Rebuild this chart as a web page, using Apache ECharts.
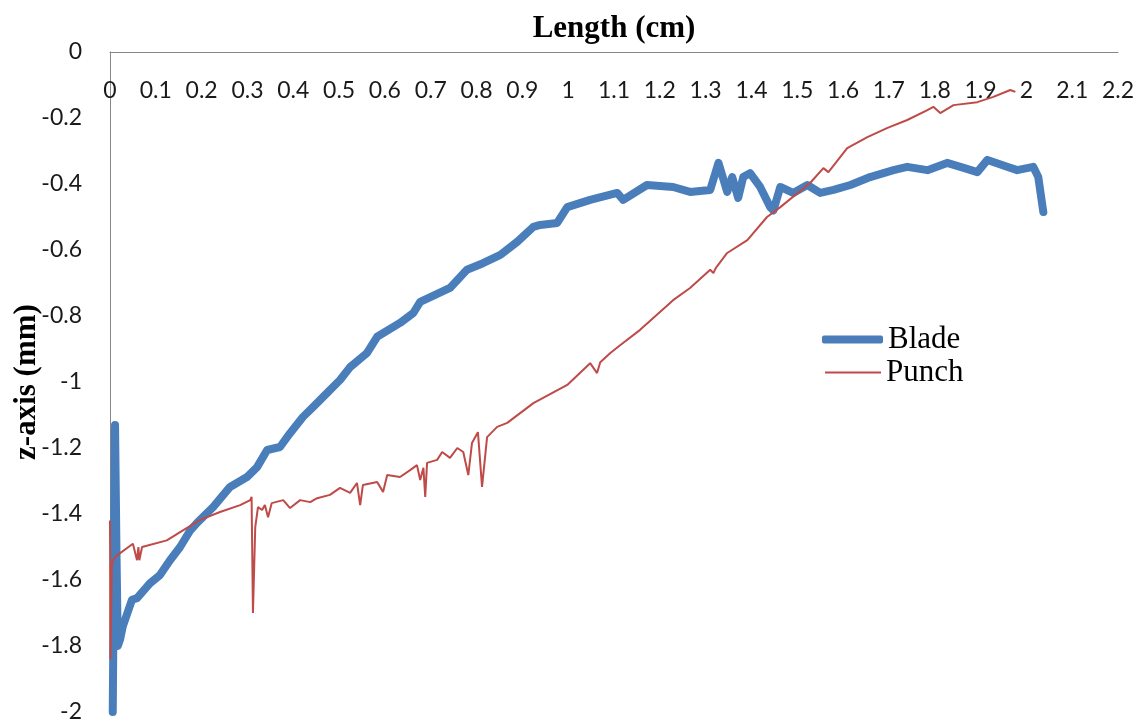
<!DOCTYPE html>
<html>
<head>
<meta charset="utf-8">
<script src="https://cdn.jsdelivr.net/npm/echarts@6/dist/echarts.min.js"></script>
<style>
  html, body { margin: 0; padding: 0; background: #fff; }
  #chart { width: 1143px; height: 725px; }
</style>
</head>
<body>
<div id="chart"></div>
<script>
// 读图得到的数据 (x: cm, y: mm)
var bladeX = [0.006, 0.011, 0.014, 0.017, 0.022, 0.028, 0.048, 0.059, 0.087, 0.109, 0.131, 0.153, 0.175, 0.19, 0.225,
  0.262, 0.299, 0.321, 0.343, 0.371, 0.393, 0.421, 0.443, 0.474, 0.502, 0.524, 0.561, 0.583, 0.633, 0.662, 0.677,
  0.742, 0.779, 0.814, 0.852, 0.889, 0.924, 0.939, 0.976, 0.998, 1.048, 1.107, 1.12, 1.172, 1.229, 1.266, 1.31,
  1.328, 1.347, 1.358, 1.371, 1.382, 1.397, 1.419, 1.441, 1.448, 1.463, 1.491, 1.522, 1.55, 1.579, 1.616, 1.659,
  1.71, 1.74, 1.784, 1.827, 1.856, 1.893, 1.915, 1.958, 1.98, 2.015, 2.026, 2.037];
var bladeY = [-2.0, -1.13, -1.5, -1.80, -1.78, -1.74, -1.66, -1.655, -1.61, -1.585, -1.54, -1.50, -1.45, -1.427, -1.379,
  -1.318, -1.288, -1.258, -1.206, -1.197, -1.155, -1.106, -1.076, -1.033, -0.994, -0.955, -0.912, -0.863, -0.821, -0.791, -0.757,
  -0.715, -0.66, -0.64, -0.615, -0.575, -0.53, -0.524, -0.518, -0.47, -0.448, -0.427, -0.448, -0.403, -0.409, -0.424, -0.418,
  -0.336, -0.424, -0.379, -0.442, -0.379, -0.367, -0.409, -0.47, -0.48, -0.409, -0.427, -0.403, -0.427, -0.418, -0.403, -0.379,
  -0.358, -0.348, -0.358, -0.336, -0.348, -0.364, -0.327, -0.348, -0.358, -0.348, -0.379, -0.485];

var punchX = [0, 0.001, 0.004, 0.011, 0.05, 0.059, 0.062, 0.064, 0.07, 0.124, 0.153, 0.197, 0.24, 0.284, 0.306, 0.309,
  0.312, 0.317, 0.323, 0.332, 0.338, 0.345, 0.353, 0.378, 0.393, 0.415, 0.437, 0.452, 0.48, 0.502, 0.524, 0.539, 0.546,
  0.552, 0.583, 0.596, 0.605, 0.633, 0.655, 0.67, 0.677, 0.684, 0.688, 0.692, 0.714, 0.725, 0.742, 0.758, 0.771, 0.782,
  0.79, 0.803, 0.812, 0.823, 0.845, 0.867, 0.924, 0.998, 1.048, 1.063, 1.07, 1.092, 1.114, 1.157, 1.229, 1.266, 1.31,
  1.317, 1.322, 1.347, 1.391, 1.434, 1.463, 1.528, 1.557, 1.568, 1.609, 1.653, 1.697, 1.74, 1.784, 1.797, 1.812, 1.841,
  1.893, 1.928, 1.965, 1.976];
var punchY = [-1.42, -1.84, -1.55, -1.53, -1.49, -1.54, -1.50, -1.54, -1.50, -1.48, -1.455, -1.418, -1.394, -1.373, -1.358, -1.348,
  -1.70, -1.44, -1.379, -1.388, -1.373, -1.41, -1.367, -1.358, -1.382, -1.358, -1.364, -1.352, -1.342, -1.321, -1.336, -1.306, -1.373,
  -1.312, -1.303, -1.333, -1.282, -1.288, -1.267, -1.252, -1.297, -1.26, -1.348, -1.245, -1.236, -1.212, -1.23, -1.2, -1.212, -1.282,
  -1.185, -1.152, -1.318, -1.167, -1.136, -1.124, -1.064, -1.009, -0.943, -0.973, -0.94, -0.912, -0.888, -0.842, -0.752, -0.715, -0.66,
  -0.67, -0.655, -0.609, -0.57, -0.5, -0.47, -0.397, -0.352, -0.364, -0.291, -0.258, -0.23, -0.206, -0.176, -0.166, -0.185, -0.161,
  -0.152, -0.136, -0.115, -0.121];

function pairs(xs, ys) {
  var out = [];
  for (var i = 0; i < xs.length; i++) out.push([xs[i], ys[i]]);
  return out;
}

var myChart = echarts.init(document.getElementById('chart'));

var legendText = { fontFamily: 'Liberation Serif', fontSize: 31, color: '#000' };

var option = {
  animation: false,
  grid: { left: 110, top: 52, right: 25, bottom: 13, containLabel: false, outerBoundsMode: 'none' },
  legend: [
    {   // 两个图例分开, 线宽不同
      orient: 'vertical',
      left: 817,
      top: 319,
      icon: 'roundRect',
      itemWidth: 61,
      itemHeight: 8,
      textStyle: legendText,
      data: ['Blade']
    },
    {
      orient: 'vertical',
      left: 820,
      top: 352,
      icon: 'rect',
      itemWidth: 56,
      itemHeight: 2,
      textStyle: legendText,
      data: ['Punch']
    }
  ],
  xAxis: {
    type: 'value',
    position: 'top',
    min: 0,
    max: 2.2,
    interval: 0.1,
    name: 'Length (cm)',
    nameLocation: 'middle',
    nameGap: 8,
    nameMoveOverlap: false,
    nameTextStyle: { fontFamily: 'Liberation Serif', fontWeight: 'bold', fontSize: 31, color: '#000' },
    axisLine: { onZero: false, lineStyle: { color: '#878787', width: 1 } },
    axisTick: { show: false },
    splitLine: { show: false },
    axisLabel: { inside: true, margin: 27, fontFamily: 'Lato', fontSize: 23, color: '#1a1a1a' }
  },
  yAxis: {
    type: 'value',
    min: -2,
    max: 0,
    interval: 0.2,
    name: 'z-axis (mm)',
    nameLocation: 'middle',
    nameGap: 68,
    nameMoveOverlap: false,
    nameTextStyle: { fontFamily: 'Liberation Serif', fontWeight: 'bold', fontSize: 31, color: '#000' },
    axisLine: { show: true, onZero: false, lineStyle: { color: '#878787', width: 1 } },
    axisTick: { show: false },
    splitLine: { show: false },
    axisLabel: { margin: 28, fontFamily: 'Lato', fontSize: 23, color: '#1a1a1a' }
  },
  series: [
    {
      name: 'Blade',
      type: 'line',
      symbol: 'none',
      color: '#4A7EBB',
      lineStyle: { width: 8, color: '#4A7EBB', cap: 'round', join: 'round' },
      data: pairs(bladeX, bladeY)
    },
    {
      name: 'Punch',
      type: 'line',
      symbol: 'none',
      color: '#BE4B48',
      lineStyle: { width: 2, color: '#BE4B48' },
      data: pairs(punchX, punchY)
    }
  ]
};
myChart.setOption(option);
</script>
</body>
</html>
